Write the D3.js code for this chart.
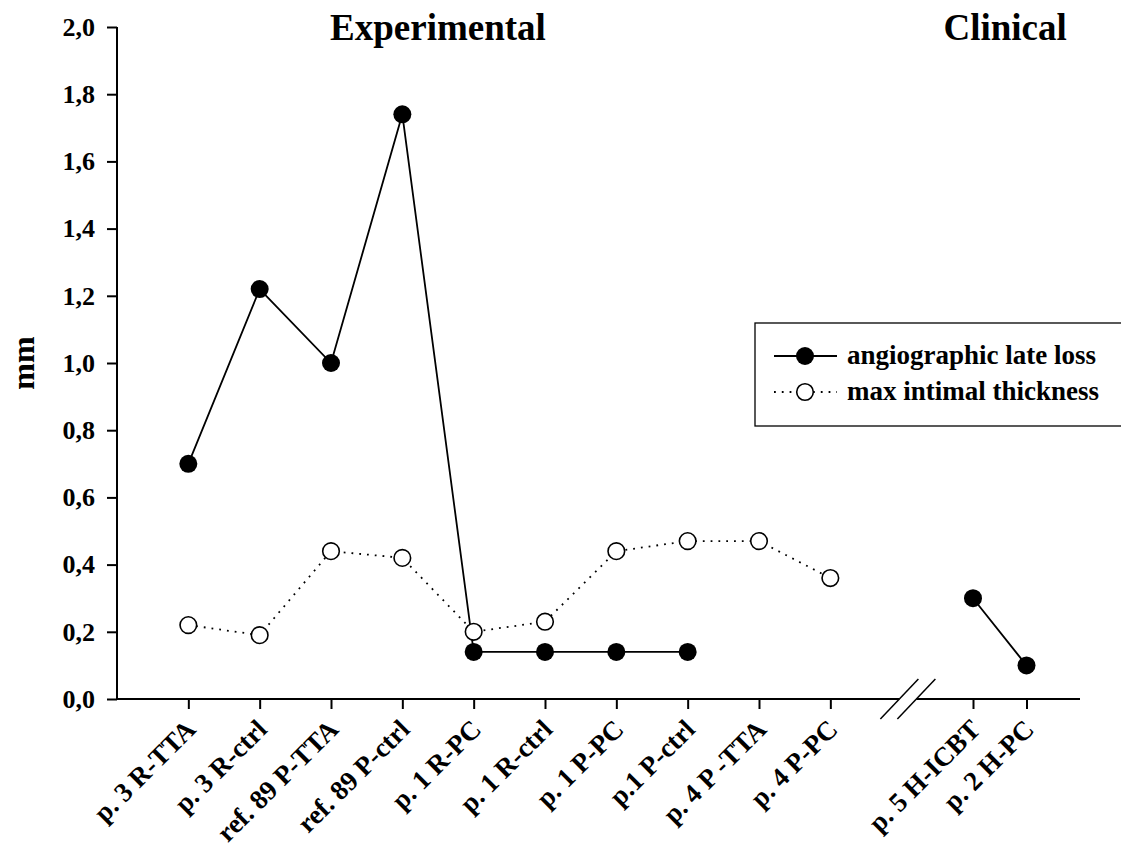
<!DOCTYPE html>
<html>
<head>
<meta charset="utf-8">
<script src="https://cdn.jsdelivr.net/npm/d3@7"></script>
<style>
  body { margin: 0; background: #fff; }
  svg text { font-family: "Liberation Serif", "Times New Roman", serif; font-weight: bold; fill: #000; }
</style>
</head>
<body>
<svg id="chart" width="1121" height="851"></svg>
<script>
// categories and their x values (gap before the clinical group, as in the original plot)
const categories = ["p. 3 R-TTA", "p. 3 R-ctrl", "ref. 89 P-TTA", "ref. 89 P-ctrl", "p. 1 R-PC",
  "p. 1 R-ctrl", "p. 1 P-PC", "p.1 P-ctrl", "p. 4 P -TTA", "p. 4 P-PC", "p. 5 H-ICBT", "p. 2 H-PC"];
const xValues = [1, 2, 3, 4, 5, 6, 7, 8, 9, 10, 12, 12.75];

// series (null = no value)
const lateLoss = [0.70, 1.22, 1.00, 1.74, 0.14, 0.14, 0.14, 0.14, null, null, 0.30, 0.10];
const intimalThickness = [0.22, 0.19, 0.44, 0.42, 0.20, 0.23, 0.44, 0.47, 0.47, 0.36, null, null];

const yTicks = [0, 0.2, 0.4, 0.6, 0.8, 1.0, 1.2, 1.4, 1.6, 1.8, 2.0];
const groupTitles = [{name: "Experimental", at: 4.5}, {name: "Clinical", at: 12.45}];
const axisBreakAt = 11.08;

const svg = d3.select("#chart");
const plotLeft = 117, plotRight = 1080, plotTop = 27, plotBottom = 699;

const x = d3.scaleLinear().domain([0, 13.5]).range([plotLeft, plotRight]);
const y = d3.scaleLinear().domain([0, 2]).range([plotBottom, plotTop]);

const fmt = d => d3.format(".1f")(d).replace(".", ",");

// y axis
const yAxis = svg.append("g")
  .attr("transform", `translate(${plotLeft},0)`)
  .call(d3.axisLeft(y).tickValues(yTicks).tickFormat(fmt).tickSize(10).tickPadding(12));
yAxis.select(".domain").attr("d", `M0,${plotTop}V${plotBottom}`).attr("stroke-width", 2);
yAxis.selectAll(".tick line").attr("stroke-width", 2);
yAxis.selectAll("text").style("font-size", "26px");

// x axis
const xAxis = svg.append("g")
  .attr("transform", `translate(0,${plotBottom})`)
  .call(d3.axisBottom(x).tickValues(xValues).tickFormat("").tickSize(10));
xAxis.select(".domain").remove();
xAxis.selectAll(".tick line").attr("stroke-width", 2);

// axis line with break
const bx = x(axisBreakAt);
svg.append("line").attr("x1", plotLeft - 1).attr("x2", bx - 8).attr("y1", plotBottom).attr("y2", plotBottom)
  .attr("stroke", "#000").attr("stroke-width", 2);
svg.append("line").attr("x1", bx + 9).attr("x2", plotRight).attr("y1", plotBottom).attr("y2", plotBottom)
  .attr("stroke", "#000").attr("stroke-width", 2);
[-8, 9].forEach(o => {
  svg.append("line")
    .attr("x1", bx + o - 19).attr("y1", plotBottom + 20)
    .attr("x2", bx + o + 19).attr("y2", plotBottom - 20)
    .attr("stroke", "#000").attr("stroke-width", 1.5);
});

// x tick labels, rotated
svg.append("g").selectAll("text")
  .data(categories)
  .enter().append("text")
  .attr("transform", (d, i) => `translate(${x(xValues[i]) + 9},${plotBottom + 32}) rotate(-45)`)
  .attr("text-anchor", "end")
  .style("font-size", "27px")
  .text(d => d);

// y label
svg.append("text")
  .attr("transform", `translate(34,${(plotTop + plotBottom) / 2}) rotate(-90)`)
  .attr("text-anchor", "middle")
  .style("font-size", "32px")
  .text("mm");

// group titles
svg.append("g").selectAll("text")
  .data(groupTitles)
  .enter().append("text")
  .attr("x", d => x(d.at))
  .attr("y", 40)
  .attr("text-anchor", "middle")
  .style("font-size", "37px")
  .text(d => d.name);

// lines
const line = d3.line()
  .defined(d => d.v !== null)
  .x(d => x(d.x))
  .y(d => y(d.v));

const lateData = lateLoss.map((v, i) => ({x: xValues[i], v}));
const thickData = intimalThickness.map((v, i) => ({x: xValues[i], v}));

svg.append("path").datum(lateData)
  .attr("d", line).attr("fill", "none").attr("stroke", "#000").attr("stroke-width", 1.8);
svg.append("path").datum(thickData)
  .attr("d", line).attr("fill", "none").attr("stroke", "#000").attr("stroke-width", 1.8)
  .attr("stroke-dasharray", "1.8,6").attr("stroke-linecap", "butt");

// markers
svg.append("g").selectAll("circle")
  .data(lateData.filter(d => d.v !== null))
  .enter().append("circle")
  .attr("cx", d => x(d.x)).attr("cy", d => y(d.v)).attr("r", 9)
  .attr("fill", "#000");
svg.append("g").selectAll("circle")
  .data(thickData.filter(d => d.v !== null))
  .enter().append("circle")
  .attr("cx", d => x(d.x)).attr("cy", d => y(d.v)).attr("r", 8.3)
  .attr("fill", "#fff").attr("stroke", "#000").attr("stroke-width", 1.6);

// legend
const legend = svg.append("g");
legend.append("rect")
  .attr("x", 755).attr("y", 323).attr("width", 380).attr("height", 103)
  .attr("fill", "#fff").attr("stroke", "#000").attr("stroke-width", 1.3);
const legendItems = [
  {label: "angiographic late loss", dash: null, fill: "#000", yy: 356},
  {label: "max intimal thickness", dash: "1.8,6", fill: "#fff", yy: 392}
];
legendItems.forEach(it => {
  legend.append("line")
    .attr("x1", 774).attr("x2", 837).attr("y1", it.yy).attr("y2", it.yy)
    .attr("stroke", "#000").attr("stroke-width", 1.8)
    .attr("stroke-dasharray", it.dash);
  legend.append("circle")
    .attr("cx", 805).attr("cy", it.yy).attr("r", it.fill === "#000" ? 9 : 8.3)
    .attr("fill", it.fill).attr("stroke", "#000").attr("stroke-width", it.fill === "#000" ? 0 : 1.6);
  legend.append("text")
    .attr("x", 847).attr("y", it.yy + 8)
    .style("font-size", "27px")
    .text(it.label);
});
</script>
</body>
</html>
